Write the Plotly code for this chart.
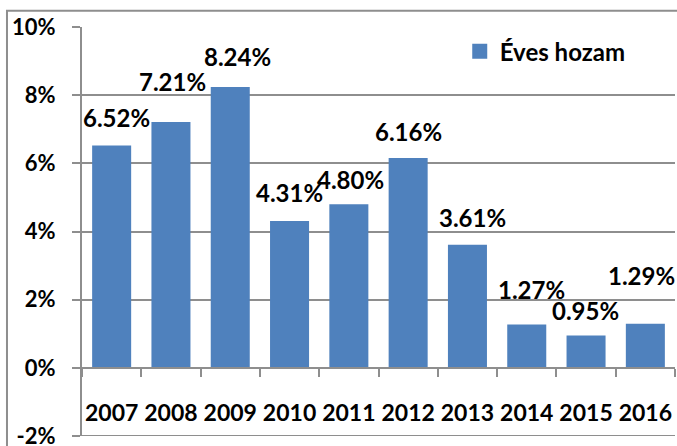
import plotly.graph_objects as go

years = ["2007", "2008", "2009", "2010", "2011", "2012", "2013", "2014", "2015", "2016"]
returns = [6.52, 7.21, 8.24, 4.31, 4.80, 6.16, 3.61, 1.27, 0.95, 1.29]
series_name = "Éves hozam"
y_tick_vals = [-2, 0, 2, 4, 6, 8, 10]
y_tick_text = ["-2%", "0%", "2%", "4%", "6%", "8%", "10%"]

# label nudges (px), style only
label_dy = [28, 41, 30, 28, 25, 26, 27, 35, 25, 48]
label_dx = [5, 2, 7, 0, 2, 0, 5, 5, -1, -4]

BAR = "#4F81BD"
GRID = "#8e8e8e"
FONT = "Lato"

fig = go.Figure()
fig.add_trace(go.Bar(x=years, y=returns, marker=dict(color=BAR, line=dict(width=0)),
                     showlegend=False, name=series_name))
fig.add_trace(go.Scatter(x=years[:1], y=[None], mode="markers", name=series_name,
                         showlegend=True, hoverinfo="skip",
                         marker=dict(symbol="square", size=15, color=BAR)))

for i, (v, dy, dx) in enumerate(zip(returns, label_dy, label_dx)):
    fig.add_annotation(x=i, y=v, xref="x", yref="y", text=f"{v:.2f}%", showarrow=False,
                       yanchor="middle", xanchor="center", yshift=dy, xshift=dx,
                       font=dict(family=FONT, size=24, color="black", weight="bold"))

# outer chart border
fig.add_shape(type="rect", xref="paper", yref="paper",
              x0=-0.1265, x1=1.02, y0=-0.1, y1=1.0396,
              line=dict(color=GRID, width=2), fillcolor="rgba(0,0,0,0)", layer="below")
# bottom frame line at the axis minimum
fig.add_shape(type="line", xref="paper", yref="y", x0=0, x1=1,
              y0=y_tick_vals[0], y1=y_tick_vals[0],
              line=dict(color=GRID, width=2), layer="below")

fig.update_layout(
    width=677, height=446,
    margin=dict(l=82, r=2, t=27, b=10, autoexpand=False),
    paper_bgcolor="white", plot_bgcolor="white",
    bargap=0.342,
    font=dict(family=FONT, size=22, color="black", weight="bold"),
    legend=dict(x=0.637, y=0.995, xanchor="left", yanchor="top",
                bgcolor="rgba(0,0,0,0)",
                font=dict(family=FONT, size=24, color="black", weight="bold")),
    xaxis=dict(type="category", categoryorder="array", categoryarray=years,
               range=[-0.5, len(years) - 0.5], automargin=False, tickangle=0,
               anchor="free", position=2 / 12,
               showline=True, linecolor=GRID, linewidth=2,
               ticks="outside", tickson="boundaries", ticklen=8, tickcolor=GRID, tickwidth=2,
               showgrid=False, ticklabelstandoff=25, ticklabeloverflow="allow",
               tickfont=dict(family=FONT, size=23, color="black", weight="bold")),
    yaxis=dict(range=[-2, 10], tickvals=y_tick_vals, ticktext=y_tick_text, automargin=False,
               showline=True, linecolor=GRID, linewidth=2,
               ticks="outside", ticklen=8, tickcolor=GRID, tickwidth=2,
               showgrid=True, gridcolor=GRID, gridwidth=2, zeroline=False,
               ticklabelstandoff=12, ticklabeloverflow="allow",
               tickfont=dict(family=FONT, size=22, color="black", weight="bold")),
)

fig.write_html("out.html", config={"displayModeBar": False},
               post_script="document.body.style.margin='0';document.body.style.overflow='hidden';")
